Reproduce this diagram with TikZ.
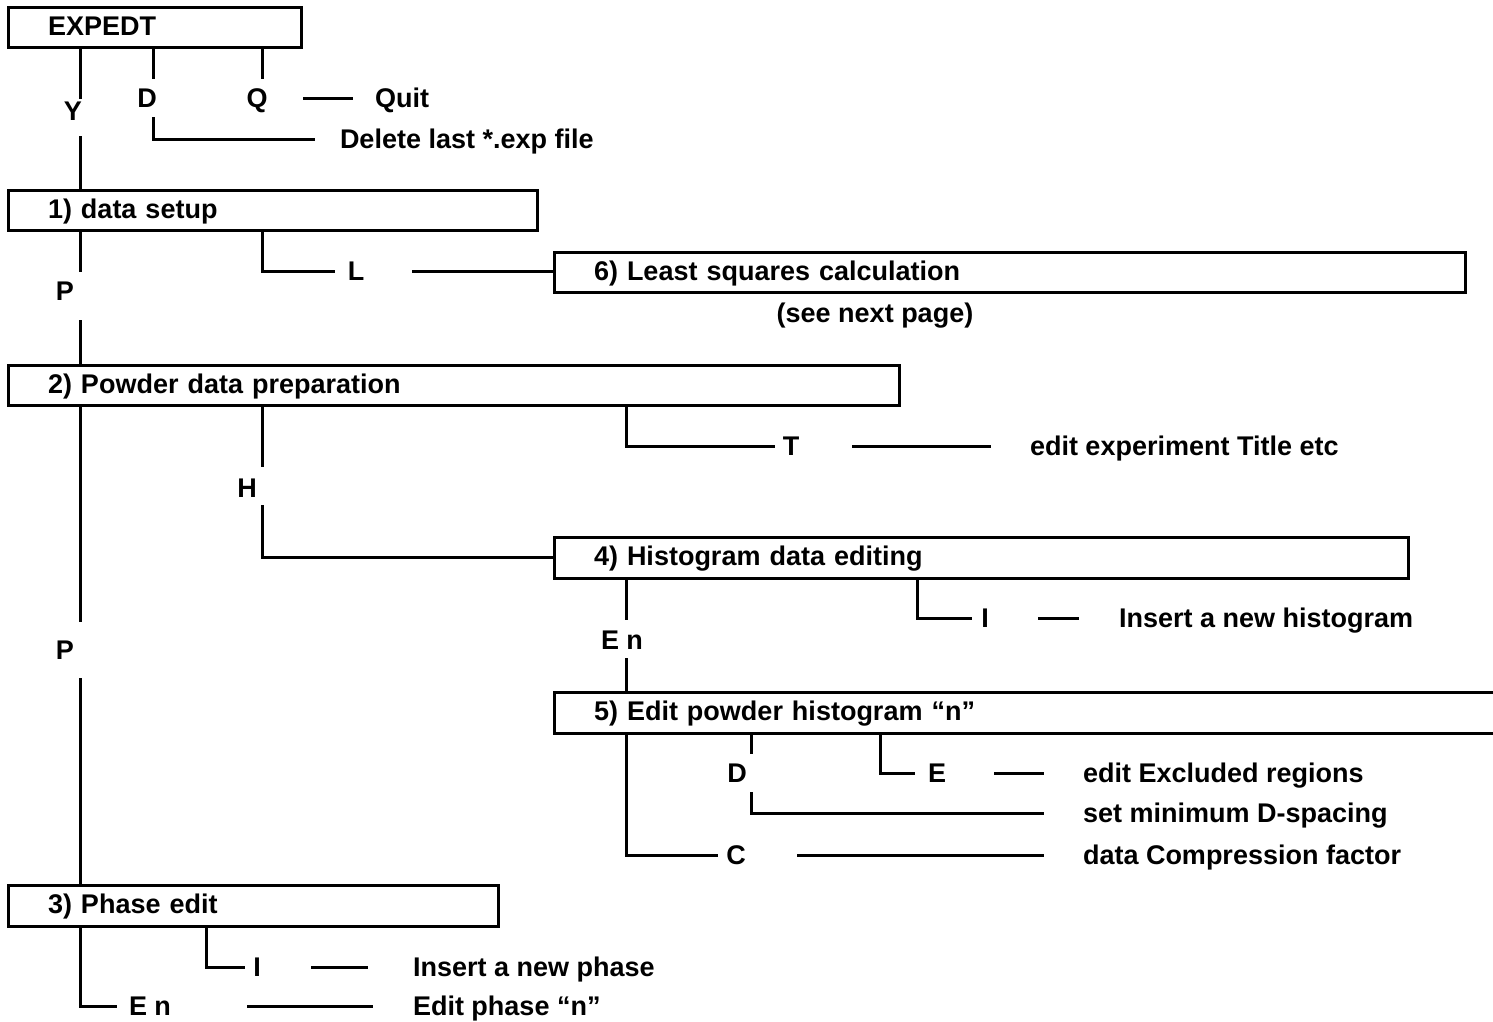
\documentclass[tikz,border=0pt]{standalone}
\usepackage{fontspec}
\setmainfont{Liberation Sans}
\begin{document}
\begin{tikzpicture}[x=1pt,y=-1pt,
  font=\fontsize{27}{32}\selectfont\bfseries,
  ln/.style={line width=3pt},
  box/.style={draw, line width=3pt, anchor=north west, inner xsep=40pt, inner ysep=0pt,
    outer sep=0pt, text height=19.3pt, text depth=3pt, align=left},
  lbl/.style={inner sep=0pt, outer sep=0pt, text height=19.3pt, text depth=0pt},
  txt/.style={lbl, anchor=west}]
\useasboundingbox (0,0) rectangle (1493,1021);
\clip (0,0) rectangle (1493,1021);

% boxes
\node[box, text width=213pt, minimum height=40pt] (expedt) at (8,7) {EXPEDT};
\node[box, text width=449pt, minimum height=40pt] (setup) at (8,190) {1) data setup};
\node[box, text width=831pt, minimum height=40pt] (lsq) at (554,252) {6) Least squares calculation};
\node[box, text width=811pt, minimum height=40pt] (powder) at (8,365) {2) Powder data preparation};
\node[box, text width=774pt, minimum height=41pt] (histo) at (554,537) {4) Histogram data editing};
\node[box, draw=none, text width=862pt, minimum height=41pt] (edithist) at (554,692) {5) Edit powder histogram “n”};
\draw[ln] (edithist.north east) -- (edithist.north west) -- (edithist.south west) -- (edithist.south east);
\node[box, text width=410pt, minimum height=41pt] (phase) at (8,885) {3) Phase edit};

% labels and texts
\node[lbl] (kY) at (73,111) {Y};
\node[lbl] (kD) at (147,98) {D};
\node[lbl] (kQ) at (257,98) {Q};
\node[txt] (quit) at (375,98) {Quit};
\node[txt] (del) at (340,139) {Delete last *.exp file};
\node[lbl] (kP1) at (65,291) {P};
\node[lbl] (kL) at (356,271) {L};
\node[lbl] (seenext) at (875,313) {(see next page)};
\node[lbl] (kT) at (791,446) {T};
\node[txt] (title) at (1030,446) {edit experiment Title etc};
\node[lbl] (kH) at (247,488) {H};
\node[lbl] (kP2) at (65,650) {P};
\node[lbl] (kI1) at (985,618) {I};
\node[txt] (newhist) at (1119,618) {Insert a new histogram};
\node[lbl] (kEn1) at (622,640) {E n};
\node[lbl] (kD2) at (737,773) {D};
\node[lbl] (kE) at (937,773) {E};
\node[txt] (excl) at (1083,773) {edit Excluded regions};
\node[txt] (dsp) at (1083,813) {set minimum D-spacing};
\node[lbl] (kC) at (736,855) {C};
\node[txt] (comp) at (1083,855) {data Compression factor};
\node[lbl] (kI2) at (257,967) {I};
\node[txt] (newph) at (413,967) {Insert a new phase};
\node[lbl] (kEn2) at (150,1006) {E n};
\node[txt] (editph) at (413,1006) {Edit phase “n”};

% connectors: EXPEDT
\draw[ln] (expedt.south -| 80,0) -- ([yshift=2.4pt]kY.north -| 80,0);
\draw[ln] ([yshift=-15.4pt]kY.south -| 80,0) -- (setup.north -| 80,0);
\draw[ln] (expedt.south -| 153,0) -- ([yshift=9.4pt]kD.north -| 153,0);
\draw[ln] ([yshift=-9.4pt]kD.south -| 153,0) |- ([xshift=-25pt]del.west);
\draw[ln] (expedt.south -| 262,0) -- ([yshift=9.4pt]kQ.north -| 262,0);
\draw[ln] ([xshift=35.5pt]kQ.east) -- ([xshift=-22pt]quit.west);

% data setup
\draw[ln] (setup.south -| 80,0) -- ([yshift=9.4pt]kP1.north -| 80,0);
\draw[ln] ([yshift=-19.4pt]kP1.south -| 80,0) -- (powder.north -| 80,0);
\draw[ln] (setup.south -| 262,0) |- ([xshift=-12.8pt]kL.west);
\draw[ln] ([xshift=47.8pt]kL.east) -- (kL -| lsq.west);

% powder data preparation
\draw[ln] (powder.south -| 80,0) -- ([yshift=18.4pt]kP2.north -| 80,0);
\draw[ln] ([yshift=-18.4pt]kP2.south -| 80,0) -- (phase.north -| 80,0);
\draw[ln] (powder.south -| 626,0) |- ([xshift=-7.8pt]kT.west);
\draw[ln] ([xshift=52.8pt]kT.east) -- ([xshift=-39pt]title.west);
\draw[ln] (powder.south -| 262,0) -- ([yshift=11.4pt]kH.north -| 262,0);
\draw[ln] ([yshift=-7.4pt]kH.south -| 262,0) |- (histo.west);

% histogram data editing
\draw[ln] (histo.south -| 917,0) |- ([xshift=-9.3pt]kI1.west);
\draw[ln] ([xshift=49.3pt]kI1.east) -- ([xshift=-40pt]newhist.west);
\draw[ln] (histo.south -| 626,0) -- ([yshift=10.4pt]kEn1.north -| 626,0);
\draw[ln] ([yshift=-8.4pt]kEn1.south -| 626,0) -- (edithist.north -| 626,0);

% edit powder histogram
\draw[ln] (edithist.south -| 751,0) -- ([yshift=9.4pt]kD2.north -| 751,0);
\draw[ln] ([yshift=-9.4pt]kD2.south -| 751,0) |- ([xshift=-39pt]dsp.west);
\draw[ln] (edithist.south -| 880,0) |- ([xshift=-13pt]kE.west);
\draw[ln] ([xshift=48pt]kE.east) -- ([xshift=-39pt]excl.west);
\draw[ln] (edithist.south -| 626,0) |- ([xshift=-8.3pt]kC.west);
\draw[ln] ([xshift=51.3pt]kC.east) -- ([xshift=-39pt]comp.west);

% phase edit
\draw[ln] (phase.south -| 206,0) |- ([xshift=-8.3pt]kI2.west);
\draw[ln] ([xshift=50.3pt]kI2.east) -- ([xshift=-45pt]newph.west);
\draw[ln] (phase.south -| 80,0) |- ([xshift=-12pt]kEn2.west);
\draw[ln] ([xshift=76pt]kEn2.east) -- ([xshift=-40pt]editph.west);
\end{tikzpicture}
\end{document}
